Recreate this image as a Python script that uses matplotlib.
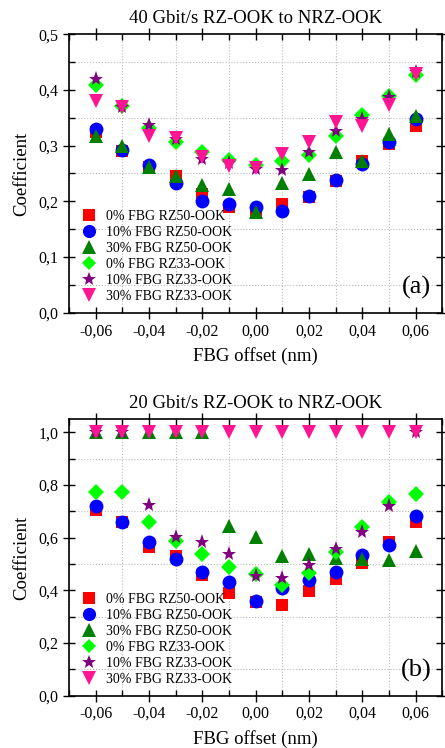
import matplotlib
matplotlib.use("Agg")
import matplotlib.pyplot as plt
from matplotlib.ticker import MultipleLocator, FuncFormatter

plt.rcParams['font.family'] = ['Liberation Serif', 'DejaVu Serif']

offsets = [-0.06, -0.05, -0.04, -0.03, -0.02, -0.01, 0.00, 0.01, 0.02, 0.03, 0.04, 0.05, 0.06]

labels = ["0% FBG RZ50-OOK", "10% FBG RZ50-OOK", "30% FBG RZ50-OOK",
          "0% FBG RZ33-OOK", "10% FBG RZ33-OOK", "30% FBG RZ33-OOK"]

# Panel (a): 40 Gbit/s
a_rz50_0 = [0.324, 0.291, 0.262, 0.246, 0.213, 0.190, 0.183, 0.196, 0.207, 0.237, 0.273, 0.303, 0.336]
a_rz50_10 = [0.330, 0.293, 0.265, 0.233, 0.201, 0.196, 0.190, 0.183, 0.210, 0.239, 0.267, 0.306, 0.348]
a_rz50_30 = [0.317, 0.300, 0.261, 0.246, 0.229, 0.222, 0.181, 0.233, 0.249, 0.288, 0.273, 0.321, 0.353]
a_rz33_0 = [0.408, 0.371, 0.331, 0.307, 0.288, 0.275, 0.265, 0.273, 0.283, 0.318, 0.355, 0.390, 0.426]
a_rz33_10 = [0.419, 0.369, 0.337, 0.312, 0.276, 0.268, 0.258, 0.257, 0.288, 0.327, 0.348, 0.387, 0.432]
a_rz33_30 = [0.381, 0.369, 0.318, 0.313, 0.279, 0.264, 0.259, 0.285, 0.307, 0.343, 0.336, 0.373, 0.429]

# Panel (b): 20 Gbit/s
b_rz50_0 = [0.706, 0.661, 0.566, 0.532, 0.458, 0.390, 0.357, 0.346, 0.396, 0.443, 0.504, 0.585, 0.658]
b_rz50_10 = [0.719, 0.658, 0.585, 0.519, 0.471, 0.430, 0.361, 0.408, 0.439, 0.471, 0.535, 0.572, 0.684]
b_rz50_30 = [1.0, 1.0, 1.0, 1.0, 1.0, 0.643, 0.601, 0.529, 0.538, 0.522, 0.519, 0.515, 0.551]
b_rz33_0 = [0.775, 0.775, 0.658, 0.589, 0.538, 0.487, 0.462, 0.420, 0.465, 0.544, 0.639, 0.737, 0.766]
b_rz33_10 = [1.0, 1.0, 0.724, 0.601, 0.585, 0.538, 0.456, 0.446, 0.496, 0.557, 0.620, 0.719, 1.0]
b_rz33_30 = [1.0, 1.0, 1.0, 1.0, 1.0, 1.0, 1.0, 1.0, 1.0, 1.0, 1.0, 1.0, 1.0]

markers = ['s', 'o', '^', 'D', '*', 'v']
colors = ['#ff0000', '#0000ff', '#008000', '#00ff00', '#800080', '#ff1493']
sizes = [9, 10, 10, 8, 11, 10]

fig = plt.figure(figsize=(4.45, 7.48), dpi=100)
ax_a = fig.add_axes([0.155, 0.5819, 0.839, 0.3723])
ax_b = fig.add_axes([0.155, 0.0699, 0.839, 0.3696])


def fmt(dec):
    return FuncFormatter(lambda v, p: (f"{v:.{dec}f}").replace('.', ',').replace('\u2212', '-'))


def setup(ax, series, title, ymax, ymaj, ymin, tag):
    for s, m, c, ms, lab in zip(series, markers, colors, sizes, labels):
        ax.plot(offsets, s, linestyle='none', marker=m, color=c, markersize=ms,
                markeredgewidth=0, label=lab)
    ax.set_xlim(-0.07, 0.07)
    ax.set_ylim(0, ymax)
    ax.xaxis.set_major_locator(MultipleLocator(0.02))
    ax.xaxis.set_minor_locator(MultipleLocator(0.01))
    ax.yaxis.set_major_locator(MultipleLocator(ymaj))
    ax.yaxis.set_minor_locator(MultipleLocator(ymin))
    ax.xaxis.set_major_formatter(fmt(2))
    ax.yaxis.set_major_formatter(fmt(1))
    ax.tick_params(which='major', direction='inout', length=8, width=1,
                   top=True, right=True, labelsize=11.5)
    ax.tick_params(which='minor', direction='in', length=4, width=1,
                   top=True, right=True)
    ax.grid(which='minor', linestyle=':', color='#bbbbbb', linewidth=0.8)
    ax.grid(which='major', visible=False)
    ax.set_axisbelow(True)
    for sp in ax.spines.values():
        sp.set_linewidth(1.2)
    ax.set_title(title, fontsize=13.5, pad=8)
    ax.set_xlabel("FBG offset (nm)", fontsize=13.5, labelpad=6)
    ax.set_ylabel("Coefficient", fontsize=13.5, labelpad=6)
    ax.text(0.97, 0.09, tag, transform=ax.transAxes, fontsize=19,
            ha='right', va='center')
    ax.legend(loc='lower left', bbox_to_anchor=(0.0, 0.0), frameon=False,
              fontsize=10, handletextpad=0.5, labelspacing=0.22,
              borderaxespad=0.3, handlelength=1.5, markerscale=0.95)


setup(ax_a, [a_rz50_0, a_rz50_10, a_rz50_30, a_rz33_0, a_rz33_10, a_rz33_30],
      "40 Gbit/s RZ-OOK to NRZ-OOK", 0.5, 0.1, 0.05, "(a)")
setup(ax_b, [b_rz50_0, b_rz50_10, b_rz50_30, b_rz33_0, b_rz33_10, b_rz33_30],
      "20 Gbit/s RZ-OOK to NRZ-OOK", 1.05, 0.2, 0.1, "(b)")

fig.savefig("out.png", dpi=100)
